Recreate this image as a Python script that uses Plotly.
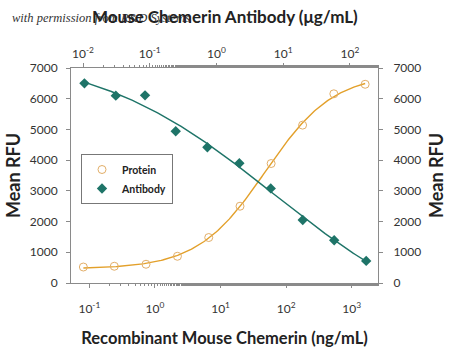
import numpy as np
import plotly.graph_objects as go

# Recombinant mouse chemerin (ng/mL) and response
protein_conc = [0.081, 0.24, 0.73, 2.2, 6.6, 19.8, 59, 178, 533, 1600]
protein_rfu = [520, 545, 610, 870, 1480, 2500, 3890, 5140, 6160, 6470]

# Anti-mouse chemerin antibody (ug/mL) and response
antibody_conc = [0.0105, 0.031, 0.085, 0.245, 0.73, 2.2, 6.5, 19.6, 58, 175]
antibody_rfu = [6500, 6100, 6110, 4940, 4420, 3900, 3080, 2050, 1390, 720]

bottom_ticks = [0.1, 1, 10, 100, 1000]
bottom_ticktext = ["10<sup>-1</sup>", "10<sup>0</sup>", "10<sup>1</sup>", "10<sup>2</sup>", "10<sup>3</sup>"]
top_ticks = [0.01, 0.1, 1, 10, 100]
top_ticktext = ["10<sup>-2</sup>", "10<sup>-1</sup>", "10<sup>0</sup>", "10<sup>1</sup>", "10<sup>2</sup>"]
y_ticks = [0, 1000, 2000, 3000, 4000, 5000, 6000, 7000]

PROTEIN_LINE = "#E3A02A"
PROTEIN_MARK = "#E2AE68"
ANTIBODY = "#1E7468"
FONT = "Lato, Roboto, sans-serif"
AXIS_GREY = "#8a8a8a"

# plot-area edges in pixels (450 x 348 canvas)
L, R, T, B = 71, 378, 68, 283
PW, PH = R - L, B - T


def fit_4pl(x, y):
    """Four-parameter logistic fit: grid over log EC50 / Hill slope,
    linear least squares for the bottom and top asymptotes."""
    lx = np.log10(np.asarray(x, float))
    yv = np.asarray(y, float)
    best = None
    for lec in np.linspace(lx.min() - 1, lx.max() + 1, 241):
        for h in np.linspace(0.3, 2.5, 111):
            s = 1.0 / (1.0 + 10 ** ((lec - lx) * h))
            A = np.column_stack([1 - s, s])
            coef, *_ = np.linalg.lstsq(A, yv, rcond=None)
            sse = float(np.sum((A @ coef - yv) ** 2))
            if best is None or sse < best[0]:
                best = (sse, lec, h, coef)
    _, lec, h, (b, t) = best

    def f(xx):
        s = 1.0 / (1.0 + 10 ** ((lec - np.log10(xx)) * h))
        return b * (1 - s) + t * s
    return f


p_fit = fit_4pl(protein_conc, protein_rfu)
a_fit = fit_4pl(antibody_conc, antibody_rfu)
px = np.logspace(np.log10(protein_conc[0]), np.log10(protein_conc[-1]), 200)
ax_ = np.logspace(np.log10(antibody_conc[0]), np.log10(antibody_conc[-1]), 200)

fig = go.Figure()
fig.add_trace(go.Scatter(x=px, y=p_fit(px), mode="lines", showlegend=False,
                         line=dict(color=PROTEIN_LINE, width=1.4), hoverinfo="skip"))
fig.add_trace(go.Scatter(x=ax_, y=a_fit(ax_), mode="lines", showlegend=False, xaxis="x2",
                         line=dict(color=ANTIBODY, width=1.4), hoverinfo="skip"))
fig.add_trace(go.Scatter(x=protein_conc, y=protein_rfu, mode="markers", name="Protein",
                         marker=dict(symbol="circle-open", size=8, color=PROTEIN_MARK,
                                     line=dict(width=1, color=PROTEIN_MARK))))
fig.add_trace(go.Scatter(x=antibody_conc, y=antibody_rfu, mode="markers", name="Antibody",
                         xaxis="x2",
                         marker=dict(symbol="diamond", size=8, color=ANTIBODY)))
# empty trace on the right-hand axis so it is drawn
fig.add_trace(go.Scatter(x=[None], y=[None], yaxis="y2", showlegend=False, hoverinfo="skip"))

axis_common = dict(showline=True, linecolor=AXIS_GREY, linewidth=1, ticks="outside",
                   tickcolor=AXIS_GREY, ticklen=4, showgrid=False, zeroline=False,
                   automargin=False,
                   tickfont=dict(family=FONT, size=12, color="#333333"))
minor_ticks = dict(ticks="outside", ticklen=2, tickcolor=AXIS_GREY, showgrid=False)
title_font = dict(family=FONT, size=18, color="#222222", weight="bold")
top_title_font = dict(family=FONT, size=17, color="#222222", weight="bold")
x_title_font = dict(family=FONT, size=16.5, color="#222222", weight="bold")

fig.update_layout(
    width=450, height=348,
    margin=dict(l=L, r=450 - R, t=T, b=348 - B),
    paper_bgcolor="white", plot_bgcolor="white",
    font=dict(family=FONT, color="#222222"),
    xaxis=dict(type="log", range=[-1.28, 3.40], tickvals=bottom_ticks, ticktext=bottom_ticktext,
               minor=minor_ticks, ticklabelstandoff=11,
               title=dict(text="Recombinant Mouse Chemerin (ng/mL)", font=x_title_font, standoff=18),
               **axis_common),
    xaxis2=dict(type="log", range=[-2.18, 2.42], overlaying="x", side="top",
                tickvals=top_ticks, ticktext=top_ticktext, minor=minor_ticks,
                ticklabelstandoff=0, **axis_common),
    yaxis=dict(range=[0, 7000], tickvals=y_ticks, ticklabelstandoff=6,
               title=dict(text="Mean RFU", font=title_font, standoff=4),
               **axis_common),
    yaxis2=dict(range=[0, 7000], tickvals=y_ticks, overlaying="y", side="right",
                ticklabelstandoff=8,
                title=dict(text="Mean RFU", font=title_font, standoff=10),
                **axis_common),
    legend=dict(x=(81 - L) / PW, y=(B - 154) / PH, xanchor="left", yanchor="top",
                bordercolor="#777777", borderwidth=1, bgcolor="white",
                font=dict(family=FONT, size=10.5, color="#222222", weight="bold"),
                itemwidth=30, tracegroupgap=0),
    showlegend=True,
)

fig.add_annotation(text="with permission from R&amp;D Systems",
                   x=(10 - L) / PW, y=1 + (T - 18) / PH, xref="paper", yref="paper",
                   xanchor="left", yanchor="middle", showarrow=False,
                   font=dict(family="Liberation Serif, DejaVu Serif, serif", size=12.5,
                             color="#333333", style="italic"))
fig.add_annotation(text="Mouse Chemerin Antibody (\u03bcg/mL)",
                   x=(225 - L) / PW, y=1 + (T - 17) / PH, xref="paper", yref="paper",
                   xanchor="center", yanchor="middle", showarrow=False,
                   font=top_title_font)

fig.write_html("out.html")
